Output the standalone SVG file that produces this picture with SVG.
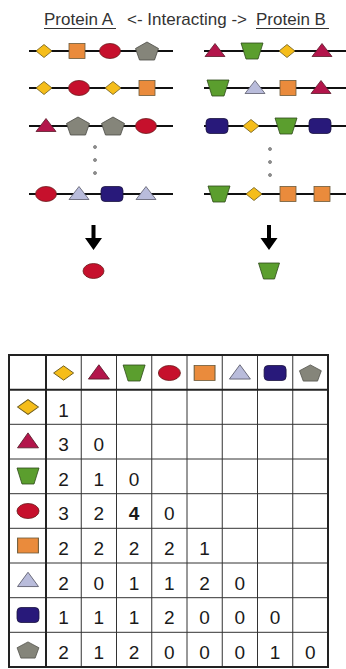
<svg xmlns="http://www.w3.org/2000/svg" xmlns:xlink="http://www.w3.org/1999/xlink" width="346" height="669" viewBox="0 0 346 669">
<style>
.ttl{font-family:"Liberation Sans",Arial,sans-serif;font-size:17px;fill:#333}
.num{font-family:"Liberation Sans",Arial,sans-serif;font-size:19px;fill:#1a1a1a;text-anchor:middle}
.bold{font-weight:bold}
.chain{stroke:#111;stroke-width:2}
.ul{stroke:#333;stroke-width:1.2}
.grid{stroke:#333;stroke-width:1;fill:none}
.thick{stroke:#222;stroke-width:2;fill:none}
.dia{fill:#f5bd1a;stroke:#6b5a1e;stroke-width:0.8}
.sq{fill:#ea8b3c;stroke:#6b5a3a;stroke-width:0.8}
.ell{fill:#c6102c;stroke:#6b1a1a;stroke-width:0.8}
.pent{fill:#85857a;stroke:#4a4a44;stroke-width:0.8}
.tri{fill:#b3154b;stroke:#5a1a2a;stroke-width:0.8}
.trap{fill:#5b9e2e;stroke:#2f4a1a;stroke-width:0.8}
.lav{fill:#b9bcdb;stroke:#5a5a6a;stroke-width:0.8}
.navy{fill:#28197a;stroke:#1a1440;stroke-width:0.8}
.dot{fill:#999;stroke:#555;stroke-width:0.6}
</style>
<defs>
<polygon id="dia" class="dia" points="0,-6.5 8,0 0,6.5 -8,0"/>
<rect id="sq" class="sq" x="-8" y="-7.5" width="16" height="15"/>
<ellipse id="ell" class="ell" cx="0" cy="0" rx="10.5" ry="7.5"/>
<polygon id="pent" class="pent" points="0,-9 11.5,-2.5 7.5,9 -7.5,9 -11.5,-2.5"/>
<polygon id="tri" class="tri" points="0,-7.5 10,5.5 -10,5.5"/>
<polygon id="trap" class="trap" points="-11,-8 11,-8 6,8 -6,8"/>
<polygon id="lav" class="lav" points="0,-7.5 10,5.5 -10,5.5"/>
<rect id="navy" class="navy" x="-11" y="-7.5" width="22" height="15" rx="4"/>
</defs>

<g id="title">
<text class="ttl" x="44" y="25">Protein A</text>
<line class="ul" x1="44" y1="28.5" x2="116" y2="28.5"/>
<text class="ttl" x="127" y="25">&lt;- Interacting -&gt;</text>
<text class="ttl" x="256" y="25">Protein B</text>
<line class="ul" x1="256" y1="28.5" x2="329" y2="28.5"/>
</g>

<g id="proteinA">
<g id="a1">
<line class="chain" x1="29" y1="51" x2="173" y2="51"/>
<use xlink:href="#dia" x="44" y="51"/>
<use xlink:href="#sq" x="77" y="51"/>
<use xlink:href="#ell" x="110" y="51"/>
<use xlink:href="#pent" x="147" y="51"/>
</g>
<g id="a2">
<line class="chain" x1="29" y1="88" x2="173" y2="88"/>
<use xlink:href="#dia" x="44" y="88"/>
<use xlink:href="#ell" x="79" y="88"/>
<use xlink:href="#dia" x="113" y="88"/>
<use xlink:href="#sq" x="147" y="88"/>
</g>
<g id="a3">
<line class="chain" x1="29" y1="126" x2="173" y2="126"/>
<use xlink:href="#tri" x="46" y="126"/>
<use xlink:href="#pent" x="78" y="126"/>
<use xlink:href="#pent" x="113" y="126"/>
<use xlink:href="#ell" x="146" y="126"/>
</g>
<g id="a-dots">
<circle class="dot" cx="95" cy="147" r="1.5"/>
<circle class="dot" cx="95" cy="160" r="1.5"/>
<circle class="dot" cx="95" cy="173" r="1.5"/>
</g>
<g id="a4">
<line class="chain" x1="29" y1="194" x2="173" y2="194"/>
<use xlink:href="#ell" x="46" y="194"/>
<use xlink:href="#lav" x="79" y="194"/>
<use xlink:href="#navy" x="112" y="194"/>
<use xlink:href="#lav" x="146" y="194"/>
</g>
</g>

<g id="proteinB">
<g id="b1">
<line class="chain" x1="204" y1="51" x2="346" y2="51"/>
<use xlink:href="#tri" x="215" y="51"/>
<use xlink:href="#trap" x="252" y="51"/>
<use xlink:href="#dia" x="287" y="51"/>
<use xlink:href="#tri" x="322" y="51"/>
</g>
<g id="b2">
<line class="chain" x1="204" y1="88" x2="346" y2="88"/>
<use xlink:href="#trap" x="218" y="88"/>
<use xlink:href="#lav" x="255" y="88"/>
<use xlink:href="#sq" x="288" y="88"/>
<use xlink:href="#tri" x="321" y="88"/>
</g>
<g id="b3">
<line class="chain" x1="204" y1="126" x2="346" y2="126"/>
<use xlink:href="#navy" x="217" y="126"/>
<use xlink:href="#dia" x="251" y="126"/>
<use xlink:href="#trap" x="286" y="126"/>
<use xlink:href="#navy" x="320" y="126"/>
</g>
<g id="b-dots">
<circle class="dot" cx="270" cy="149" r="1.5"/>
<circle class="dot" cx="270" cy="162" r="1.5"/>
<circle class="dot" cx="270" cy="175" r="1.5"/>
</g>
<g id="b4">
<line class="chain" x1="204" y1="194" x2="346" y2="194"/>
<use xlink:href="#trap" x="219" y="194"/>
<use xlink:href="#dia" x="254" y="194"/>
<use xlink:href="#sq" x="288" y="194"/>
<use xlink:href="#sq" x="322" y="194"/>
</g>
</g>

<g id="connectors">
<path d="M91.5,225 h4 v13 h6.5 l-8.5,12 l-8.5,-12 h6.5 z" fill="#000"/>
<path d="M267,225 h4 v13 h6.5 l-8.5,12 l-8.5,-12 h6.5 z" fill="#000"/>
</g>

<g id="resultA"><ellipse class="ell" cx="93.5" cy="271" rx="10.5" ry="7.5"/></g>
<g id="resultB"><polygon class="trap" points="258.5,263 279.5,263 274.5,279 263.5,279"/></g>

<g id="table">
<rect x="0" y="0" width="0" height="0" fill="none"/>
<g class="grid">
<line x1="81.25" y1="355" x2="81.25" y2="667"/>
<line x1="116.5" y1="355" x2="116.5" y2="667"/>
<line x1="151.75" y1="355" x2="151.75" y2="667"/>
<line x1="187" y1="355" x2="187" y2="667"/>
<line x1="222.25" y1="355" x2="222.25" y2="667"/>
<line x1="257.5" y1="355" x2="257.5" y2="667"/>
<line x1="292.75" y1="355" x2="292.75" y2="667"/>
<line x1="9" y1="424.3" x2="328" y2="424.3"/>
<line x1="9" y1="459" x2="328" y2="459"/>
<line x1="9" y1="493.7" x2="328" y2="493.7"/>
<line x1="9" y1="528.3" x2="328" y2="528.3"/>
<line x1="9" y1="563" x2="328" y2="563"/>
<line x1="9" y1="597.7" x2="328" y2="597.7"/>
<line x1="9" y1="632.3" x2="328" y2="632.3"/>
</g>
<g class="thick">
<rect x="9" y="355" width="319" height="312"/>
<line x1="46" y1="355" x2="46" y2="667"/>
<line x1="9" y1="389.7" x2="328" y2="389.7"/>
</g>
<g id="table-header">
<use xlink:href="#dia" transform="translate(63.6,373) scale(1.25,1.1)"/>
<use xlink:href="#tri" transform="translate(98.9,373) scale(1.05,1.1)"/>
<use xlink:href="#trap" transform="translate(134.1,373) scale(1.0)"/>
<use xlink:href="#ell" transform="translate(169.4,373) scale(1.05,1.0)"/>
<use xlink:href="#sq" transform="translate(204.6,373) scale(1.3,1.0)"/>
<use xlink:href="#lav" transform="translate(239.9,373) scale(1.05,1.1)"/>
<use xlink:href="#navy" transform="translate(275.1,373) scale(1.0)"/>
<use xlink:href="#pent" transform="translate(310.4,373) scale(0.95,0.9)"/>
</g>
<g id="table-rows">
<use xlink:href="#dia" transform="translate(28,407) scale(1.3,1.15)"/>
<use xlink:href="#tri" transform="translate(28,441.5) scale(1.05,1.15)"/>
<use xlink:href="#trap" transform="translate(28,476) scale(1.0)"/>
<use xlink:href="#ell" transform="translate(28,511) scale(1.05,1.0)"/>
<use xlink:href="#sq" transform="translate(28,545.5) scale(1.3,1.0)"/>
<use xlink:href="#lav" transform="translate(28,580.5) scale(1.05,1.1)"/>
<use xlink:href="#navy" transform="translate(28,615) scale(1.0)"/>
<use xlink:href="#pent" transform="translate(28,650) scale(0.95,0.9)"/>
</g>
<g id="table-values">
<text class="num" x="63.6" y="416.5">1</text>
<text class="num" x="63.6" y="451">3</text><text class="num" x="98.9" y="451">0</text>
<text class="num" x="63.6" y="485.7">2</text><text class="num" x="98.9" y="485.7">1</text><text class="num" x="134.1" y="485.7">0</text>
<text class="num" x="63.6" y="520.3">3</text><text class="num" x="98.9" y="520.3">2</text><text class="num bold" x="134.1" y="520.3">4</text><text class="num" x="169.4" y="520.3">0</text>
<text class="num" x="63.6" y="555">2</text><text class="num" x="98.9" y="555">2</text><text class="num" x="134.1" y="555">2</text><text class="num" x="169.4" y="555">2</text><text class="num" x="204.6" y="555">1</text>
<text class="num" x="63.6" y="589.7">2</text><text class="num" x="98.9" y="589.7">0</text><text class="num" x="134.1" y="589.7">1</text><text class="num" x="169.4" y="589.7">1</text><text class="num" x="204.6" y="589.7">2</text><text class="num" x="239.9" y="589.7">0</text>
<text class="num" x="63.6" y="624.3">1</text><text class="num" x="98.9" y="624.3">1</text><text class="num" x="134.1" y="624.3">1</text><text class="num" x="169.4" y="624.3">2</text><text class="num" x="204.6" y="624.3">0</text><text class="num" x="239.9" y="624.3">0</text><text class="num" x="275.1" y="624.3">0</text>
<text class="num" x="63.6" y="659">2</text><text class="num" x="98.9" y="659">1</text><text class="num" x="134.1" y="659">2</text><text class="num" x="169.4" y="659">0</text><text class="num" x="204.6" y="659">0</text><text class="num" x="239.9" y="659">0</text><text class="num" x="275.1" y="659">1</text><text class="num" x="310.4" y="659">0</text>
</g>
</g>
</svg>
